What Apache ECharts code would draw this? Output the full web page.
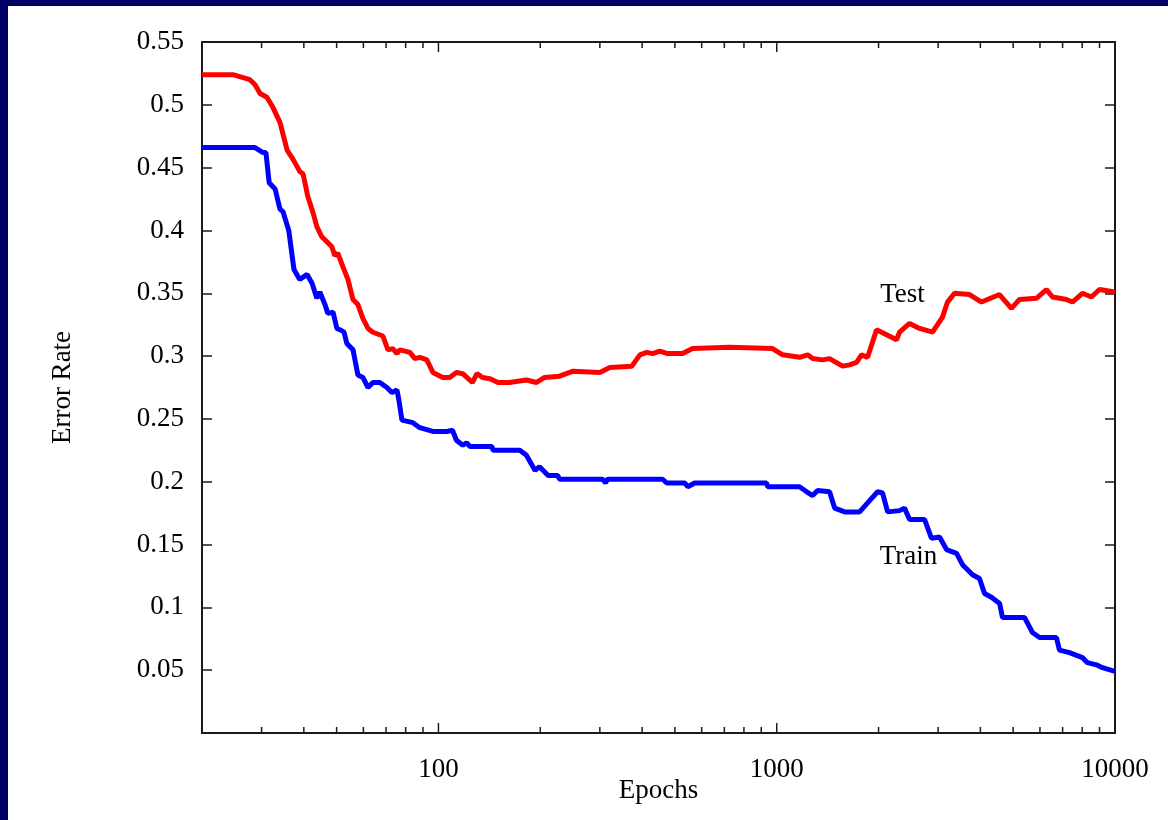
<!DOCTYPE html>
<html>
<head>
<meta charset="utf-8">
<title>Error Rate vs Epochs</title>
<script src="https://cdn.jsdelivr.net/npm/echarts@6/dist/echarts.min.js"></script>
<style>
  html, body { margin: 0; padding: 0; background: #fff; }
  .wrap { position: relative; width: 1168px; height: 820px; }
  .frame {
    position: absolute; left: 0; top: 0; right: 0; bottom: 0;
    border-top: 6px solid #000066;
    border-left: 8px solid #000066;
    pointer-events: none;
  }
  #chart { width: 1168px; height: 820px; }
</style>
</head>
<body>
<div class="wrap">
  <div id="chart"></div>
  <div class="frame"></div>
</div>
<script>
// test curve: [epochs, error rate]
const testData = [
  [20, 0.524], [24.7, 0.524], [27.7, 0.520], [28.7, 0.516], [29.7, 0.509],
  [31.1, 0.506], [32.4, 0.498], [34.0, 0.486], [35.7, 0.464], [37.1, 0.457],
  [38.9, 0.447], [39.8, 0.445], [41.1, 0.427], [42.6, 0.414], [43.7, 0.403],
  [45.2, 0.395], [46.8, 0.391], [48.4, 0.387], [49.4, 0.380], [50.4, 0.382],
  [52.2, 0.371], [54.0, 0.361], [55.9, 0.345], [57.8, 0.341], [59.8, 0.330],
  [61.9, 0.322], [64.0, 0.319], [68.5, 0.316], [70.9, 0.305], [73.3, 0.306],
  [75.4, 0.302], [76.9, 0.305], [82.3, 0.303], [85.2, 0.298], [88.1, 0.299],
  [92.4, 0.297], [96.3, 0.287], [103, 0.283], [108, 0.283], [113, 0.287],
  [118, 0.286], [126, 0.279], [130, 0.286], [135, 0.283], [142, 0.282],
  [150, 0.279], [162, 0.279], [182, 0.281], [195, 0.279], [206, 0.283],
  [228, 0.284], [250, 0.288], [300, 0.287], [321, 0.291], [373, 0.292],
  [394, 0.301], [413, 0.303], [430, 0.302], [451, 0.304], [476, 0.302],
  [527, 0.302], [564, 0.306], [726, 0.307], [972, 0.306], [1041, 0.301],
  [1168, 0.299], [1234, 0.301], [1277, 0.298], [1366, 0.297], [1433, 0.298],
  [1566, 0.292], [1642, 0.293], [1722, 0.295], [1781, 0.301], [1856, 0.299],
  [1973, 0.321], [2112, 0.317], [2261, 0.313], [2307, 0.319], [2470, 0.326],
  [2644, 0.322], [2888, 0.319], [3091, 0.331], [3198, 0.343], [3355, 0.350],
  [3715, 0.349], [4030, 0.343], [4555, 0.349], [4941, 0.338], [5219, 0.345],
  [5858, 0.346], [6271, 0.353], [6534, 0.347], [7185, 0.345], [7484, 0.343],
  [8011, 0.350], [8518, 0.347], [8994, 0.353], [10000, 0.351]
];

// train curve: [epochs, error rate]
const trainData = [
  [20, 0.466], [28.7, 0.466], [30.3, 0.462], [30.9, 0.462], [31.6, 0.438],
  [32.9, 0.433], [34.0, 0.417], [34.7, 0.415], [36.1, 0.400], [37.4, 0.369],
  [38.9, 0.361], [40.9, 0.365], [42.3, 0.358], [43.7, 0.346], [44.6, 0.351],
  [46.2, 0.341], [47.1, 0.334], [48.8, 0.335], [50.1, 0.322], [51.1, 0.321],
  [52.6, 0.319], [53.6, 0.310], [55.9, 0.305], [57.8, 0.285], [59.8, 0.283],
  [61.9, 0.275], [64.0, 0.279], [67.1, 0.279], [70.4, 0.275], [72.8, 0.271],
  [75.4, 0.273], [76.4, 0.265], [78.0, 0.249], [84.0, 0.247], [88.1, 0.243],
  [96.3, 0.240], [106, 0.240], [110, 0.241], [113, 0.233], [118, 0.229],
  [121, 0.231], [124, 0.228], [144, 0.228], [145, 0.225], [174, 0.225],
  [182, 0.221], [193, 0.209], [199, 0.212], [211, 0.205], [225, 0.205],
  [228, 0.202], [306, 0.202], [312, 0.199], [316, 0.202], [460, 0.202],
  [473, 0.199], [535, 0.199], [546, 0.196], [572, 0.199], [934, 0.199],
  [940, 0.196], [1168, 0.196], [1226, 0.192], [1277, 0.189], [1321, 0.193],
  [1433, 0.192], [1483, 0.179], [1588, 0.176], [1758, 0.176], [1882, 0.185],
  [1987, 0.192], [2056, 0.191], [2127, 0.176], [2307, 0.177], [2387, 0.179],
  [2470, 0.170], [2735, 0.170], [2868, 0.155], [3029, 0.156], [3177, 0.146],
  [3401, 0.143], [3542, 0.134], [3792, 0.126], [3976, 0.123], [4114, 0.111],
  [4313, 0.108], [4560, 0.103], [4649, 0.092], [5400, 0.092], [5702, 0.080],
  [5984, 0.076], [6713, 0.076], [6851, 0.066], [7335, 0.064], [8011, 0.060],
  [8288, 0.056], [8873, 0.054], [9180, 0.052], [10000, 0.049]
];

// ticks of the log axis (drawn inward on bottom and top)
const majorTicks = [100, 1000];
const minorTicks = [30, 40, 50, 60, 70, 80, 90, 200, 300, 400, 500, 600, 700, 800, 900,
  2000, 3000, 4000, 5000, 6000, 7000, 8000, 9000];

const xMin = 20, xMax = 10000;
const yMin = 0, yMax = 0.55, yStep = 0.05;

// label positions (data coords)
const testLabelAt = [2354, 0.349];
const trainLabelAt = [2453, 0.140];

const FONT = "'Liberation Serif', 'Times New Roman', serif";
const FS = 27;
const AX = '#1a1a1a';

const chart = echarts.init(document.getElementById('chart'));

const logLabel = (v) => {
  const l = Math.log10(v);
  return (Math.abs(l - Math.round(l)) < 1e-6 && v > 50) ? String(Math.round(v)) : '';
};

const xBase = {
  type: 'log', logBase: 10, min: xMin, max: xMax,
  axisLine: { show: true, onZero: false, lineStyle: { color: AX, width: 2 } },
  axisTick: { show: false },
  splitLine: { show: false }
};
const yBase = {
  type: 'value', min: yMin, max: yMax, interval: yStep,
  axisLine: { show: true, onZero: false, lineStyle: { color: AX, width: 2 } },
  axisTick: { show: true, inside: true, length: 10, lineStyle: { color: AX, width: 1.5 } },
  splitLine: { show: false }
};

const tickSeries = (values, len) => ({
  type: 'custom', silent: true, clip: false, z: 5,
  data: values.map(v => [v]),
  encode: { x: 0 },
  renderItem: (params, api) => {
    const v = api.value(0);
    const b = api.coord([v, yMin]);
    const t = api.coord([v, yMax]);
    const style = { stroke: AX, lineWidth: 1.5 };
    return {
      type: 'group',
      children: [
        { type: 'line', shape: { x1: b[0], y1: b[1], x2: b[0], y2: b[1] - len }, style },
        { type: 'line', shape: { x1: t[0], y1: t[1], x2: t[0], y2: t[1] + len }, style }
      ]
    };
  }
});

const option = {
  animation: false,
  backgroundColor: '#fff',
  grid: { left: 202, right: 53, top: 42, bottom: 87, containLabel: false },
  textStyle: { fontFamily: FONT },
  xAxis: [
    Object.assign({}, xBase, {
      position: 'bottom',
      name: 'Epochs', nameLocation: 'middle', nameGap: 44, nameMoveOverlap: false,
      nameTextStyle: { fontFamily: FONT, fontSize: FS, color: '#000' },
      axisLabel: { margin: 23, fontFamily: FONT, fontSize: FS, color: '#000', formatter: logLabel }
    }),
    Object.assign({}, xBase, { position: 'top', axisLabel: { show: false } })
  ],
  yAxis: [
    Object.assign({}, yBase, {
      position: 'left',
      name: 'Error Rate', nameLocation: 'middle', nameGap: 126, nameRotate: 90,
      nameTextStyle: { fontFamily: FONT, fontSize: FS, color: '#000' },
      axisLabel: {
        margin: 18, fontFamily: FONT, fontSize: FS, color: '#000',
        formatter: (v) => v === 0 ? '' : String(Math.round(v * 100) / 100)
      }
    }),
    Object.assign({}, yBase, { position: 'right', axisLabel: { show: false } })
  ],
  series: [
    {
      name: 'Test', type: 'line', data: testData,
      showSymbol: false, symbol: 'none',
      lineStyle: { color: '#ff0000', width: 5 },
      itemStyle: { color: '#ff0000' },
      markPoint: {
        symbol: 'circle', symbolSize: 1, itemStyle: { color: 'rgba(0,0,0,0)' },
        label: { show: true, position: 'inside', formatter: 'Test', color: '#000', fontFamily: FONT, fontSize: FS },
        data: [{ coord: testLabelAt }]
      }
    },
    {
      name: 'Train', type: 'line', data: trainData,
      showSymbol: false, symbol: 'none',
      lineStyle: { color: '#0000ff', width: 5 },
      itemStyle: { color: '#0000ff' },
      markPoint: {
        symbol: 'circle', symbolSize: 1, itemStyle: { color: 'rgba(0,0,0,0)' },
        label: { show: true, position: 'inside', formatter: 'Train', color: '#000', fontFamily: FONT, fontSize: FS },
        data: [{ coord: trainLabelAt }]
      }
    },
    tickSeries(majorTicks, 10),
    tickSeries(minorTicks, 6)
  ]
};

chart.setOption(option);
window.addEventListener('resize', () => chart.resize());
</script>
</body>
</html>
